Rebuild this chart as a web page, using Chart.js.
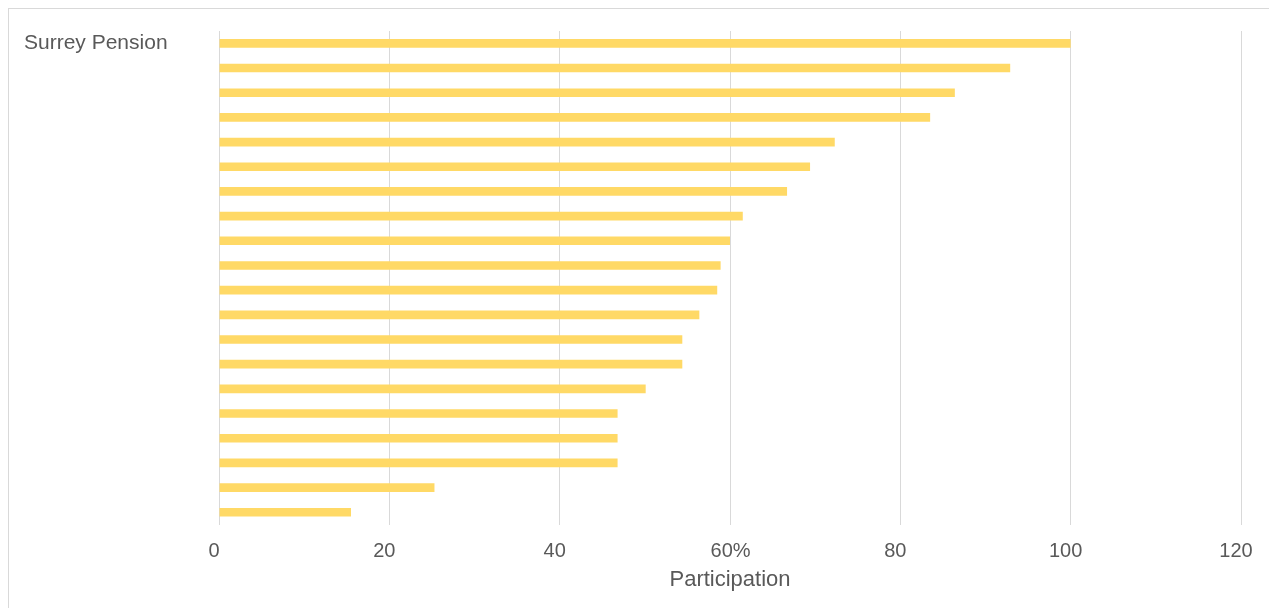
<!DOCTYPE html>
<html>
<head>
<meta charset="utf-8">
<script src="https://cdn.jsdelivr.net/npm/chart.js@4"></script>
<style>
    html, body { margin: 0; padding: 0; background: #fff; overflow: hidden; }
    #wrap { position: relative; width: 1269px; height: 608px; }
    #frame {
        position: absolute; left: 8px; top: 8px; right: -10px; bottom: -10px;
        border: 1px solid #d9d9d9; pointer-events: none;
    }
</style>
</head>
<body>
<div id="wrap">
    <canvas id="grafica" width="1269" height="608"></canvas>
    <div id="frame"></div>
</div>
<script>
/* ============================
   DATOS
============================ */
const CATEGORIAS = ["Surrey Pension", "", "", "", "", "", "", "", "", "",
                    "", "", "", "", "", "", "", "", "", ""];
const PARTICIPACION = [100, 92.9, 86.4, 83.5, 72.3, 69.4, 66.7, 61.5, 60.0, 58.9,
                       58.5, 56.4, 54.4, 54.4, 50.1, 46.8, 46.8, 46.8, 25.3, 15.5];
const X_MIN = 0, X_MAX = 120, X_PASO = 20;

const GRIS_TEXTO = "#595959";
const FUENTE = "'Liberation Sans', Arial, sans-serif";

/* ============================
   RENDER
============================ */
new Chart(document.getElementById("grafica").getContext("2d"), {
    type: "bar",
    data: {
        labels: CATEGORIAS,
        datasets: [{
            label: "Participation",
            data: PARTICIPACION,
            backgroundColor: "#ffd966",
            borderWidth: 0,
            barPercentage: 0.35,
            categoryPercentage: 1
        }]
    },
    options: {
        indexAxis: "y",
        responsive: false,
        animation: false,
        layout: { padding: { left: 24, right: 28, top: 31, bottom: 11 } },
        plugins: {
            legend: { display: false },
            tooltip: { enabled: false }
        },
        scales: {
            x: {
                min: X_MIN,
                max: X_MAX,
                border: { display: false },
                grid: { color: "#d9d9d9", drawTicks: false },
                ticks: {
                    stepSize: X_PASO,
                    padding: 15,
                    labelOffset: -5,
                    color: GRIS_TEXTO,
                    font: { family: FUENTE, size: 20 },
                    // el 60 lleva "%" pegado a la derecha
                    callback: v => (v === 60 ? "  60%" : v)
                },
                title: {
                    display: true,
                    text: "Participation",
                    color: GRIS_TEXTO,
                    font: { family: FUENTE, size: 22 },
                    padding: { top: 4, bottom: 4 }
                },
                // el eje queda un poco mas bajo que el calculado
                afterFit: s => {
                    s.height -= 16;
                    s.paddingLeft = 0;
                    s.paddingRight = 0;
                }
            },
            y: {
                border: { display: false },
                grid: { display: false, drawTicks: false },
                ticks: {
                    autoSkip: false,
                    crossAlign: "far",
                    padding: 0,
                    color: GRIS_TEXTO,
                    font: { family: FUENTE, size: 21 }
                },
                afterFit: s => { s.width = 195; }
            }
        }
    }
});
</script>
</body>
</html>
